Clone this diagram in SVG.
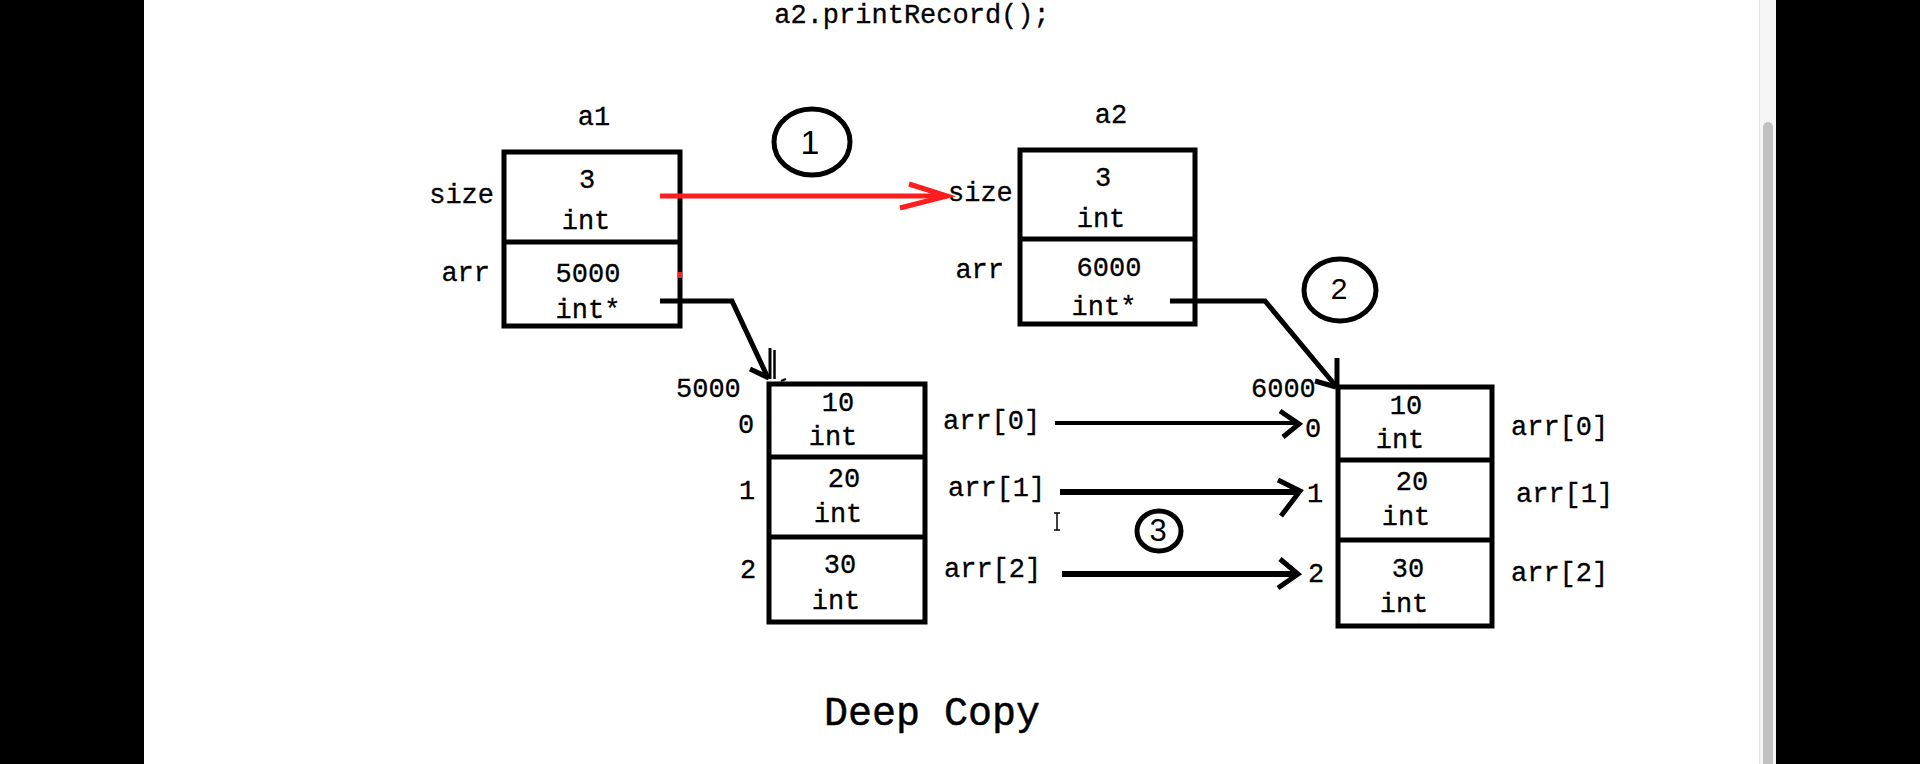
<svg xmlns="http://www.w3.org/2000/svg" width="1920" height="764" viewBox="0 0 1920 764">
<style>
.box{fill:none;stroke:#000;stroke-width:5}
.div{stroke:#000;stroke-width:5}
.t{font-family:"Liberation Mono","Courier New",monospace;font-size:27px;fill:#000;stroke:#000;stroke-width:0.3}
.m{text-anchor:middle}
.e{text-anchor:end}
.circ{fill:none;stroke:#000;stroke-width:5}
.num{font-family:"Liberation Sans",Arial,sans-serif;fill:#000;text-anchor:middle}
.ln{fill:none;stroke:#000;stroke-linecap:butt;stroke-linejoin:miter}
.red{fill:none;stroke:#ff1e1e;stroke-width:5}
</style>
<rect x="0" y="0" width="1920" height="764" fill="#000"/>
<rect x="144" y="0" width="1632" height="764" fill="#fff"/>
<g id="scrollbar">
<rect x="1759" y="0" width="17" height="764" fill="#f6f6f6"/>
<line x1="1759.5" y1="0" x2="1759.5" y2="764" stroke="#e4e4e4" stroke-width="1"/>
<rect x="1763" y="122" width="10" height="660" rx="5" fill="#c1c1c1"/>
</g>
<g id="title">
<text class="t m" x="912" y="23">a2.printRecord();</text>
</g>
<g id="a1">
<text class="t m" x="594" y="125">a1</text>
<rect class="box" x="504" y="152" width="176" height="174"/>
<line class="div" x1="504" y1="242" x2="680" y2="242"/>
<text class="t m" x="587" y="188">3</text>
<text class="t m" x="586" y="229">int</text>
<text class="t m" x="588" y="282">5000</text>
<text class="t m" x="588" y="318">int*</text>
<text class="t e" x="494" y="203">size</text>
<text class="t e" x="490" y="281">arr</text>
</g>
<g id="a2">
<text class="t m" x="1111" y="123">a2</text>
<rect class="box" x="1020" y="150" width="175" height="174"/>
<line class="div" x1="1020" y1="239" x2="1195" y2="239"/>
<text class="t m" x="1103" y="186">3</text>
<text class="t m" x="1101" y="227">int</text>
<text class="t m" x="1109" y="276">6000</text>
<text class="t m" x="1104" y="315">int*</text>
<text class="t" x="948" y="201">size</text>
<text class="t e" x="1004" y="278">arr</text>
</g>
<g id="arr1">
<rect class="box" x="769" y="384" width="156" height="238"/>
<line class="div" x1="769" y1="457" x2="925" y2="457"/>
<line class="div" x1="769" y1="537" x2="925" y2="537"/>
<text class="t" x="676" y="397">5000</text>
<text class="t m" x="838" y="411">10</text>
<text class="t m" x="833" y="445">int</text>
<text class="t m" x="844" y="487">20</text>
<text class="t m" x="838" y="522">int</text>
<text class="t m" x="840" y="573">30</text>
<text class="t m" x="836" y="609">int</text>
<text class="t m" x="746" y="433">0</text>
<text class="t m" x="747" y="499">1</text>
<text class="t m" x="748" y="578">2</text>
<text class="t" x="943" y="429">arr[0]</text>
<text class="t" x="948" y="496">arr[1]</text>
<text class="t" x="944" y="577">arr[2]</text>
</g>
<g id="arr2">
<rect class="box" x="1338" y="387" width="154" height="239"/>
<line class="div" x1="1338" y1="460" x2="1492" y2="460"/>
<line class="div" x1="1338" y1="540" x2="1492" y2="540"/>
<text class="t" x="1251" y="397">6000</text>
<text class="t m" x="1406" y="414">10</text>
<text class="t m" x="1400" y="448">int</text>
<text class="t m" x="1412" y="490">20</text>
<text class="t m" x="1406" y="525">int</text>
<text class="t m" x="1408" y="577">30</text>
<text class="t m" x="1404" y="612">int</text>
<text class="t m" x="1313" y="437">0</text>
<text class="t m" x="1315" y="502">1</text>
<text class="t m" x="1316" y="582">2</text>
<text class="t" x="1511" y="435">arr[0]</text>
<text class="t" x="1516" y="502">arr[1]</text>
<text class="t" x="1511" y="581">arr[2]</text>
</g>
<g id="step1">
<ellipse class="circ" cx="812" cy="142" rx="38" ry="33"/>
<text class="num" x="810" y="154" font-size="34">1</text>
</g>
<g id="step2">
<ellipse class="circ" cx="1340" cy="290" rx="36" ry="31"/>
<text class="num" x="1339" y="299" font-size="30">2</text>
</g>
<g id="step3">
<ellipse class="circ" cx="1159" cy="531" rx="22" ry="20"/>
<text class="num" x="1158" y="541" font-size="31">3</text>
</g>
<g id="connectors">
<line class="red" x1="660" y1="196" x2="947" y2="196"/>
<polyline class="red" points="909,184 947,196 900,208"/>
<rect x="678" y="272" width="4" height="6" fill="#ff1e1e"/>
<polyline class="ln" stroke-width="5" points="660,301 732,301 768,378"/>
<line class="ln" stroke-width="5" x1="750" y1="369" x2="769" y2="378"/>
<line class="ln" stroke-width="3" x1="770" y1="348" x2="770" y2="379"/>
<line class="ln" stroke-width="2.5" x1="774.5" y1="350" x2="774.5" y2="379"/>
<line class="ln" stroke-width="2" x1="781" y1="381" x2="786" y2="379"/>
<polyline class="ln" stroke-width="5" points="1170,301 1265,301 1335,385"/>
<line class="ln" stroke-width="5" x1="1315" y1="381" x2="1336" y2="387"/>
<line class="ln" stroke-width="5" x1="1337" y1="358" x2="1337" y2="388"/>
<line class="ln" stroke-width="4" x1="1055" y1="423" x2="1298" y2="423"/>
<polyline class="ln" stroke-width="5" points="1280,411 1299,424 1283,437"/>
<line class="ln" stroke-width="6" x1="1060" y1="492" x2="1298" y2="492"/>
<polyline class="ln" stroke-width="5" points="1278,480 1300,491 1281,516"/>
<line class="ln" stroke-width="6" x1="1062" y1="574" x2="1297" y2="574"/>
<polyline class="ln" stroke-width="5" points="1280,559 1298,574 1278,588"/>
</g>
<g id="cursor">
<path d="M1054,513 H1060 M1057,513 V530 M1054,530 H1060" fill="none" stroke="#000" stroke-width="1.5"/>
</g>
<g id="caption">
<text class="t m" x="932" y="725" style="font-size:40px;stroke-width:0.5">Deep Copy</text>
</g>
</svg>
